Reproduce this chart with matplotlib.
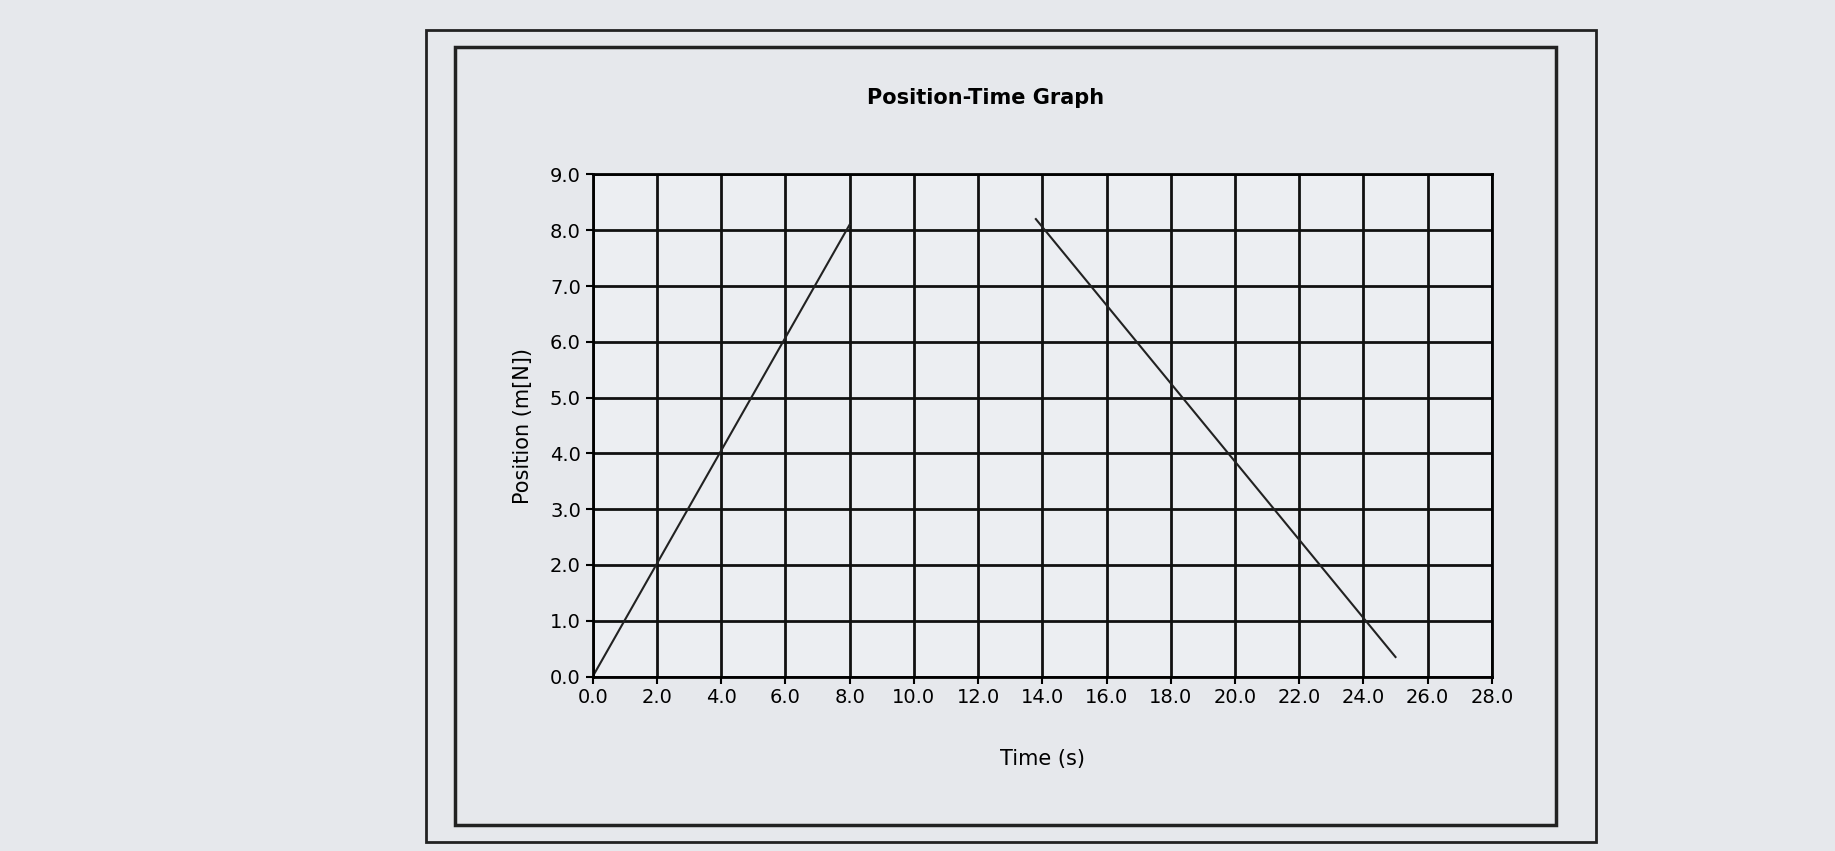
import matplotlib
matplotlib.use("Agg")
import matplotlib.pyplot as plt
from matplotlib.patches import Rectangle

seg1_t = [0.0, 8.0]
seg1_p = [0.0, 8.1]
seg2_t = [13.8, 25.0]
seg2_p = [8.2, 0.35]
xticks = [i*2.0 for i in range(15)]
yticks = [i*1.0 for i in range(10)]

fig = plt.figure(figsize=(18.35, 8.51), dpi=100)
fig.patch.set_facecolor('#e6e8ec')
fig.add_artist(Rectangle((0.232, 0.01), 0.638, 0.955, transform=fig.transFigure, fill=False, lw=2, ec='#222'))
fig.add_artist(Rectangle((0.248, 0.03), 0.600, 0.915, transform=fig.transFigure, fill=False, lw=2.5, ec='#222'))

ax = fig.add_axes([0.323, 0.205, 0.490, 0.59])
ax.set_facecolor('#eceef2')
ax.plot(seg1_t, seg1_p, color='#222', lw=1.5)
ax.plot(seg2_t, seg2_p, color='#222', lw=1.5)
ax.set_xlim(0, 28); ax.set_ylim(0, 9)
ax.set_xticks(xticks); ax.set_yticks(yticks)
ax.set_xticklabels([f"{v:.1f}" for v in xticks], fontsize=14)
ax.set_yticklabels([f"{v:.1f}" for v in yticks], fontsize=14)
ax.grid(True, color='#111', lw=2)
for s in ax.spines.values():
    s.set_linewidth(2)
ax.tick_params(length=5, width=1.5)
ax.set_xlabel("Time (s)", fontsize=15, labelpad=30)
ax.set_ylabel("Position (m[N])", fontsize=15, labelpad=12)
fig.text(0.537, 0.885, "Position-Time Graph", ha='center', va='center', fontsize=15, fontweight='bold')
fig.savefig("out.png", facecolor=fig.get_facecolor())
